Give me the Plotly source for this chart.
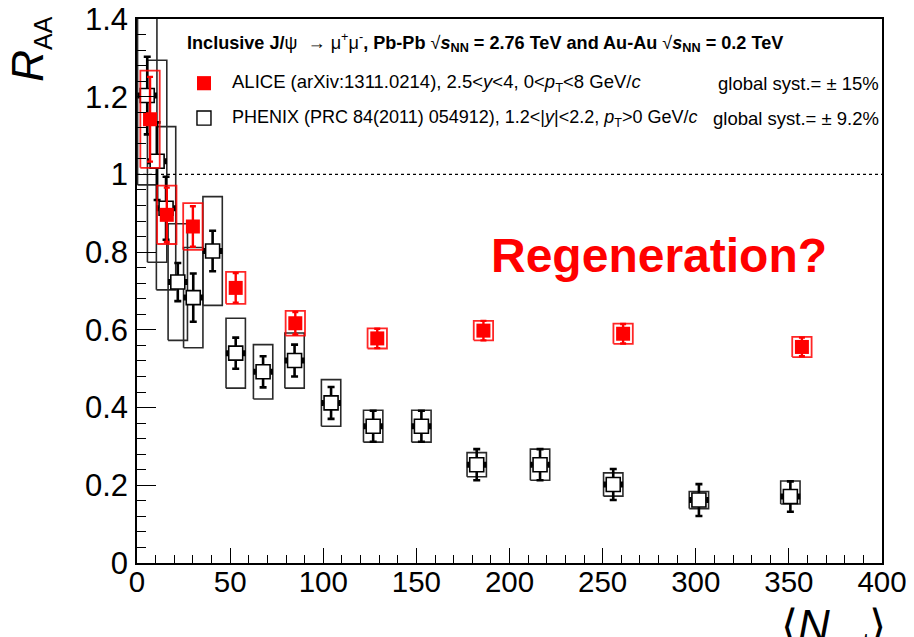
import plotly.graph_objects as go

# ---------------- data ----------------
alice_npart = [357, 261, 186, 129, 85, 53, 30, 16, 7]
alice_raa = [0.556, 0.590, 0.598, 0.578, 0.617, 0.708, 0.866, 0.896, 1.142]
alice_stat = [0.024, 0.025, 0.025, 0.025, 0.029, 0.038, 0.052, 0.070, 0.109]
alice_syst = [0.026, 0.026, 0.025, 0.026, 0.032, 0.041, 0.060, 0.075, 0.125]

phenix_npart = [350.8, 301.7, 255.7, 216.4, 182.4, 152.7, 126.8, 104.2, 84.6,
                67.7, 53.0, 40.6, 30.2, 21.9, 15.6, 10.8, 5.5]
phenix_raa = [0.171, 0.162, 0.202, 0.253, 0.253, 0.352, 0.352, 0.412, 0.521,
              0.492, 0.540, 0.803, 0.683, 0.723, 0.913, 1.034, 1.203]
phenix_stat = [0.039, 0.041, 0.040, 0.040, 0.040, 0.040, 0.040, 0.041, 0.041,
               0.040, 0.040, 0.052, 0.062, 0.049, 0.081, 0.100, 0.100]
phenix_syst_hi = [0.040, 0.022, 0.030, 0.040, 0.031, 0.041, 0.041, 0.060, 0.071,
                  0.070, 0.090, 0.140, 0.129, 0.150, 0.210, 0.260, 0.230]
phenix_syst_lo = [0.019, 0.022, 0.030, 0.040, 0.031, 0.041, 0.041, 0.060, 0.071,
                  0.070, 0.090, 0.140, 0.129, 0.150, 0.210, 0.260, 0.230]
phenix_npart_err = 4.6

box_halfwidth = 5.2
x_range = [0, 400]
y_range = [0, 1.4]

FONT = "Liberation Sans, Arial, Helvetica, sans-serif"


def box_path(xs, ys, lo, hi, hw):
    px, py = [], []
    for x, y, l, h in zip(xs, ys, lo, hi):
        px += [x - hw, x + hw, x + hw, x - hw, x - hw, None]
        py += [y - l, y - l, y + h, y + h, y - l, None]
    return px, py


fig = go.Figure()

# PHENIX systematic boxes
bx, by = box_path(phenix_npart, phenix_raa, phenix_syst_lo, phenix_syst_hi, box_halfwidth)
fig.add_trace(go.Scatter(x=bx, y=by, mode="lines",
                         line=dict(color="#2a2a2a", width=1.6),
                         hoverinfo="skip", showlegend=False))

# PHENIX points
fig.add_trace(go.Scatter(
    x=phenix_npart, y=phenix_raa, mode="markers",
    marker=dict(symbol="square", size=14, color="white",
                line=dict(color="black", width=1.6)),
    error_y=dict(type="data", array=phenix_stat, color="black", thickness=2.6, width=3.5),
    error_x=dict(type="constant", value=phenix_npart_err, color="black", thickness=2.6, width=3),
    showlegend=False))

# ALICE systematic boxes
ax_, ay_ = box_path(alice_npart, alice_raa, alice_syst, alice_syst, box_halfwidth)
fig.add_trace(go.Scatter(x=ax_, y=ay_, mode="lines",
                         line=dict(color="rgba(255,0,0,0.85)", width=1.8),
                         hoverinfo="skip", showlegend=False))

# ALICE points
fig.add_trace(go.Scatter(
    x=alice_npart, y=alice_raa, mode="markers",
    marker=dict(symbol="square", size=14, color="#ff0000",
                line=dict(color="#ff0000", width=0)),
    error_y=dict(type="data", array=alice_stat, color="#ff0000", thickness=2.4, width=3),
    showlegend=False))

# dotted line at unity
fig.add_trace(go.Scatter(x=x_range, y=[1, 1], mode="lines",
                         line=dict(color="black", width=1.2, dash="dot"),
                         hoverinfo="skip", showlegend=False))

axis_common = dict(showline=True, linecolor="black", linewidth=1.5, mirror=True,
                   ticks="inside", tickcolor="black", tickwidth=1.2,
                   showgrid=False, zeroline=False, automargin=False,
                   ticklabeloverflow="allow")

fig.update_xaxes(range=x_range, dtick=50, tick0=0, ticklen=15, ticklabelstandoff=-8,
                 tickfont=dict(family=FONT, size=29.5, color="black"),
                 minor=dict(dtick=10, ticks="inside", ticklen=8, tickcolor="black", tickwidth=1.2),
                 **axis_common)
fig.update_yaxes(range=y_range, dtick=0.2, tick0=0, ticklen=19, ticklabelstandoff=1,
                 tickfont=dict(family=FONT, size=31, color="black"),
                 minor=dict(dtick=0.04, ticks="inside", ticklen=9, tickcolor="black", tickwidth=1.2),
                 **axis_common)

annotations = [
    # axis titles
    dict(text="<i>R</i><sub><span style='font-size:25px'>AA</span></sub>", textangle=-90,
         xref="paper", yref="paper",
         x=-0.183, y=1.008, xanchor="left", yanchor="top", showarrow=False,
         font=dict(family=FONT, size=44, color="black")),
    dict(text="⟨<i>N</i><sub><span style='font-size:23px'>part</span></sub>⟩",
         xref="paper", yref="paper",
         x=1.008, y=-0.066, xanchor="right", yanchor="top", showarrow=False,
         font=dict(family=FONT, size=44, color="black")),
    # legend header
    dict(text="<b>Inclusive J/</b>ψ  → μ<sup>+</sup>μ<sup>-</sup><b>, Pb-Pb </b>√<b><i>s</i><sub>NN</sub> = 2.76 TeV and Au-Au </b>√<b><i>s</i><sub>NN</sub> = 0.2 TeV</b>",
         xref="paper", yref="paper", x=0.065, y=0.957, xanchor="left", yanchor="middle",
         showarrow=False, font=dict(family=FONT, size=18.1, color="black")),
    dict(text="ALICE (arXiv:1311.0214), 2.5&lt;<i>y</i>&lt;4, 0&lt;<i>p</i><sub>T</sub>&lt;8 GeV/<i>c</i>",
         xref="paper", yref="paper", x=0.125, y=0.882, xanchor="left", yanchor="middle",
         showarrow=False, font=dict(family=FONT, size=18.5, color="black")),
    dict(text="PHENIX (PRC 84(2011) 054912), 1.2&lt;|<i>y</i>|&lt;2.2, <i>p</i><sub>T</sub>&gt;0 GeV/<i>c</i>",
         xref="paper", yref="paper", x=0.125, y=0.818, xanchor="left", yanchor="middle",
         showarrow=False, font=dict(family=FONT, size=18, color="black")),
    dict(text="global syst.= ± 15%", xref="paper", yref="paper", x=0.998, y=0.882,
         xanchor="right", yanchor="middle", showarrow=False,
         font=dict(family=FONT, size=18.5, color="black")),
    dict(text="global syst.= ± 9.2%", xref="paper", yref="paper", x=0.998, y=0.818,
         xanchor="right", yanchor="middle", showarrow=False,
         font=dict(family=FONT, size=18.5, color="black")),
    dict(text="<b>Regeneration?</b>", xref="paper", yref="paper", x=0.701, y=0.565,
         xanchor="center", yanchor="middle", showarrow=False,
         font=dict(family=FONT, size=48, color="#ff0000")),
]

# legend symbols (paper coordinates)
shapes = [
    dict(type="rect", xref="paper", yref="paper", x0=0.0805, x1=0.0993, y0=0.869, y1=0.895,
         fillcolor="#ff0000", line=dict(color="#ff0000", width=0)),
    dict(type="rect", xref="paper", yref="paper", x0=0.0805, x1=0.0993, y0=0.805, y1=0.831,
         fillcolor="white", line=dict(color="black", width=1.4)),
]

# margins compensate the 8 px default body margin of the page
fig.update_layout(width=914, height=637,
                  margin=dict(l=129, r=40, t=11, b=82),
                  paper_bgcolor="white", plot_bgcolor="white",
                  annotations=annotations, shapes=shapes,
                  showlegend=False)

fig.write_html("out.html")
